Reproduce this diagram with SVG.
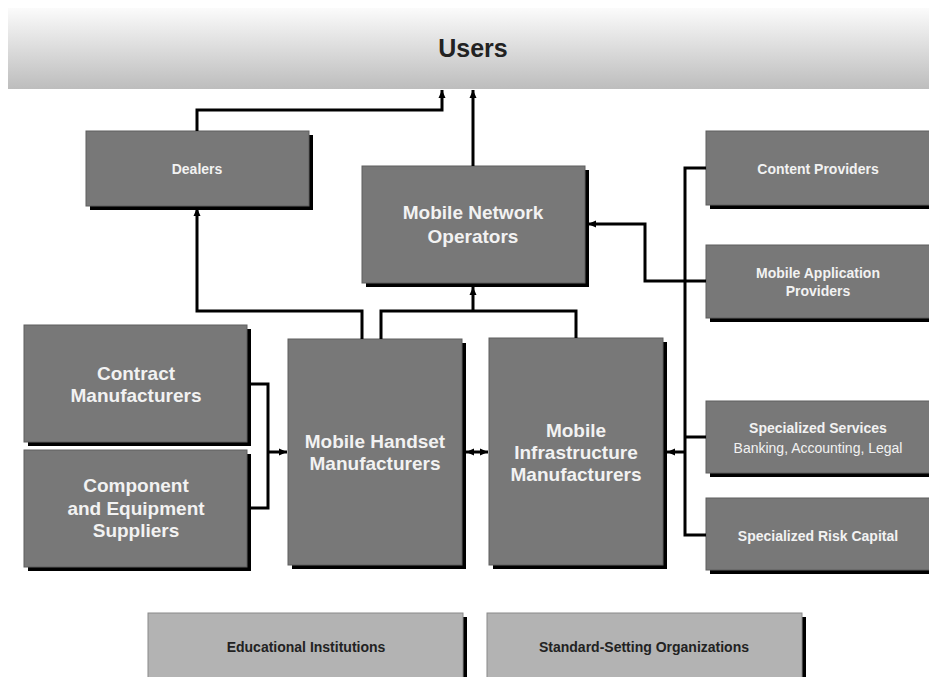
<svg xmlns="http://www.w3.org/2000/svg" width="929" height="677" viewBox="0 0 929 677">
<defs>
<linearGradient id="ug" x1="0" y1="0" x2="0" y2="1">
<stop offset="0" stop-color="#fbfbfb"/>
<stop offset="1" stop-color="#bdbdbd"/>
</linearGradient>
<marker id="ah" markerUnits="userSpaceOnUse" markerWidth="9" markerHeight="8" refX="8" refY="4" orient="auto-start-reverse">
<path d="M0,0.5 L8,4 L0,7.5 z" fill="#000"/>
</marker>
</defs>
<style>
.box{fill:#787878;stroke:#5e5e5e;stroke-width:1}
.lbox{fill:#b3b3b3;stroke:#8a8a8a;stroke-width:1}
.sh{fill:#000}
.t{font-family:"Liberation Sans",Arial,sans-serif;font-weight:bold;fill:#f2f2f2;text-anchor:middle}
.tr{font-family:"Liberation Sans",Arial,sans-serif;font-weight:normal;fill:#f2f2f2;text-anchor:middle}
.td{font-family:"Liberation Sans",Arial,sans-serif;font-weight:bold;fill:#222;text-anchor:middle}
.c{fill:none;stroke:#000;stroke-width:3}
</style>
<rect width="929" height="677" fill="#fff"/>

<g id="users">
<rect x="8" y="8" width="921" height="81" fill="url(#ug)"/>
<text class="td" x="473" y="57" font-size="25" fill="#1a1a1a">Users</text>
</g>

<g id="dealers">
<rect class="sh" x="90" y="135" width="223" height="75"/>
<rect class="box" x="86" y="131" width="223" height="75"/>
<text class="t" x="197" y="174" font-size="14">Dealers</text>
</g>

<g id="mno">
<rect class="sh" x="366" y="170" width="223" height="117"/>
<rect class="box" x="362" y="166" width="223" height="117"/>
<text class="t" x="473" y="219" font-size="19">Mobile Network</text>
<text class="t" x="473" y="243" font-size="19">Operators</text>
</g>

<g id="content">
<rect class="sh" x="710" y="135" width="230" height="74"/>
<rect class="box" x="706" y="131" width="230" height="74"/>
<text class="t" x="818" y="174" font-size="14">Content Providers</text>
</g>

<g id="mapp">
<rect class="sh" x="710" y="249" width="230" height="73"/>
<rect class="box" x="706" y="245" width="230" height="73"/>
<text class="t" x="818" y="278" font-size="14">Mobile Application</text>
<text class="t" x="818" y="296" font-size="14">Providers</text>
</g>

<g id="services">
<rect class="sh" x="710" y="405" width="230" height="72"/>
<rect class="box" x="706" y="401" width="230" height="72"/>
<text class="t" x="818" y="433" font-size="14">Specialized Services</text>
<text class="tr" x="818" y="453" font-size="14">Banking, Accounting, Legal</text>
</g>

<g id="risk">
<rect class="sh" x="710" y="502" width="230" height="72"/>
<rect class="box" x="706" y="498" width="230" height="72"/>
<text class="t" x="818" y="541" font-size="14">Specialized Risk Capital</text>
</g>

<g id="contract">
<rect class="sh" x="28" y="329" width="223" height="117"/>
<rect class="box" x="24" y="325" width="223" height="117"/>
<text class="t" x="136" y="380" font-size="19">Contract</text>
<text class="t" x="136" y="402" font-size="19">Manufacturers</text>
</g>

<g id="component">
<rect class="sh" x="28" y="454" width="223" height="117"/>
<rect class="box" x="24" y="450" width="223" height="117"/>
<text class="t" x="136" y="492" font-size="19">Component</text>
<text class="t" x="136" y="515" font-size="19">and Equipment</text>
<text class="t" x="136" y="537" font-size="19">Suppliers</text>
</g>

<g id="handset">
<rect class="sh" x="292" y="343" width="174" height="226"/>
<rect class="box" x="288" y="339" width="174" height="226"/>
<text class="t" x="375" y="448" font-size="19">Mobile Handset</text>
<text class="t" x="375" y="470" font-size="19">Manufacturers</text>
</g>

<g id="infra">
<rect class="sh" x="493" y="342" width="174" height="227"/>
<rect class="box" x="489" y="338" width="174" height="227"/>
<text class="t" x="576" y="437" font-size="19">Mobile</text>
<text class="t" x="576" y="459" font-size="19">Infrastructure</text>
<text class="t" x="576" y="481" font-size="19">Manufacturers</text>
</g>

<g id="edu">
<rect class="sh" x="152" y="617" width="315" height="70"/>
<rect class="lbox" x="148" y="613" width="315" height="70"/>
<text class="td" x="306" y="652" font-size="14">Educational Institutions</text>
</g>

<g id="std">
<rect class="sh" x="491" y="617" width="315" height="70"/>
<rect class="lbox" x="487" y="613" width="315" height="70"/>
<text class="td" x="644" y="652" font-size="14">Standard-Setting Organizations</text>
</g>

<g id="connectors">
<polyline class="c" points="197,131 197,110 442,110 442,90" marker-end="url(#ah)"/>
<polyline class="c" points="473,166 473,90" marker-end="url(#ah)"/>
<polyline class="c" points="362,339 362,311 197,311 197,208" marker-end="url(#ah)"/>
<polyline class="c" points="381,339 381,311 576,311 576,338"/>
<polyline class="c" points="473,311 473,287" marker-end="url(#ah)"/>
<polyline class="c" points="706,281 645,281 645,224 588,224" marker-end="url(#ah)"/>
<polyline class="c" points="706,168 685,168 685,535 706,535"/>
<polyline class="c" points="685,437 706,437"/>
<polyline class="c" points="685,452 667,452" marker-end="url(#ah)"/>
<polyline class="c" points="248,384 268,384 268,508 248,508"/>
<polyline class="c" points="268,452 287,452" marker-end="url(#ah)"/>
<polyline class="c" points="466,452 488,452" marker-start="url(#ah)" marker-end="url(#ah)"/>
</g>
</svg>
